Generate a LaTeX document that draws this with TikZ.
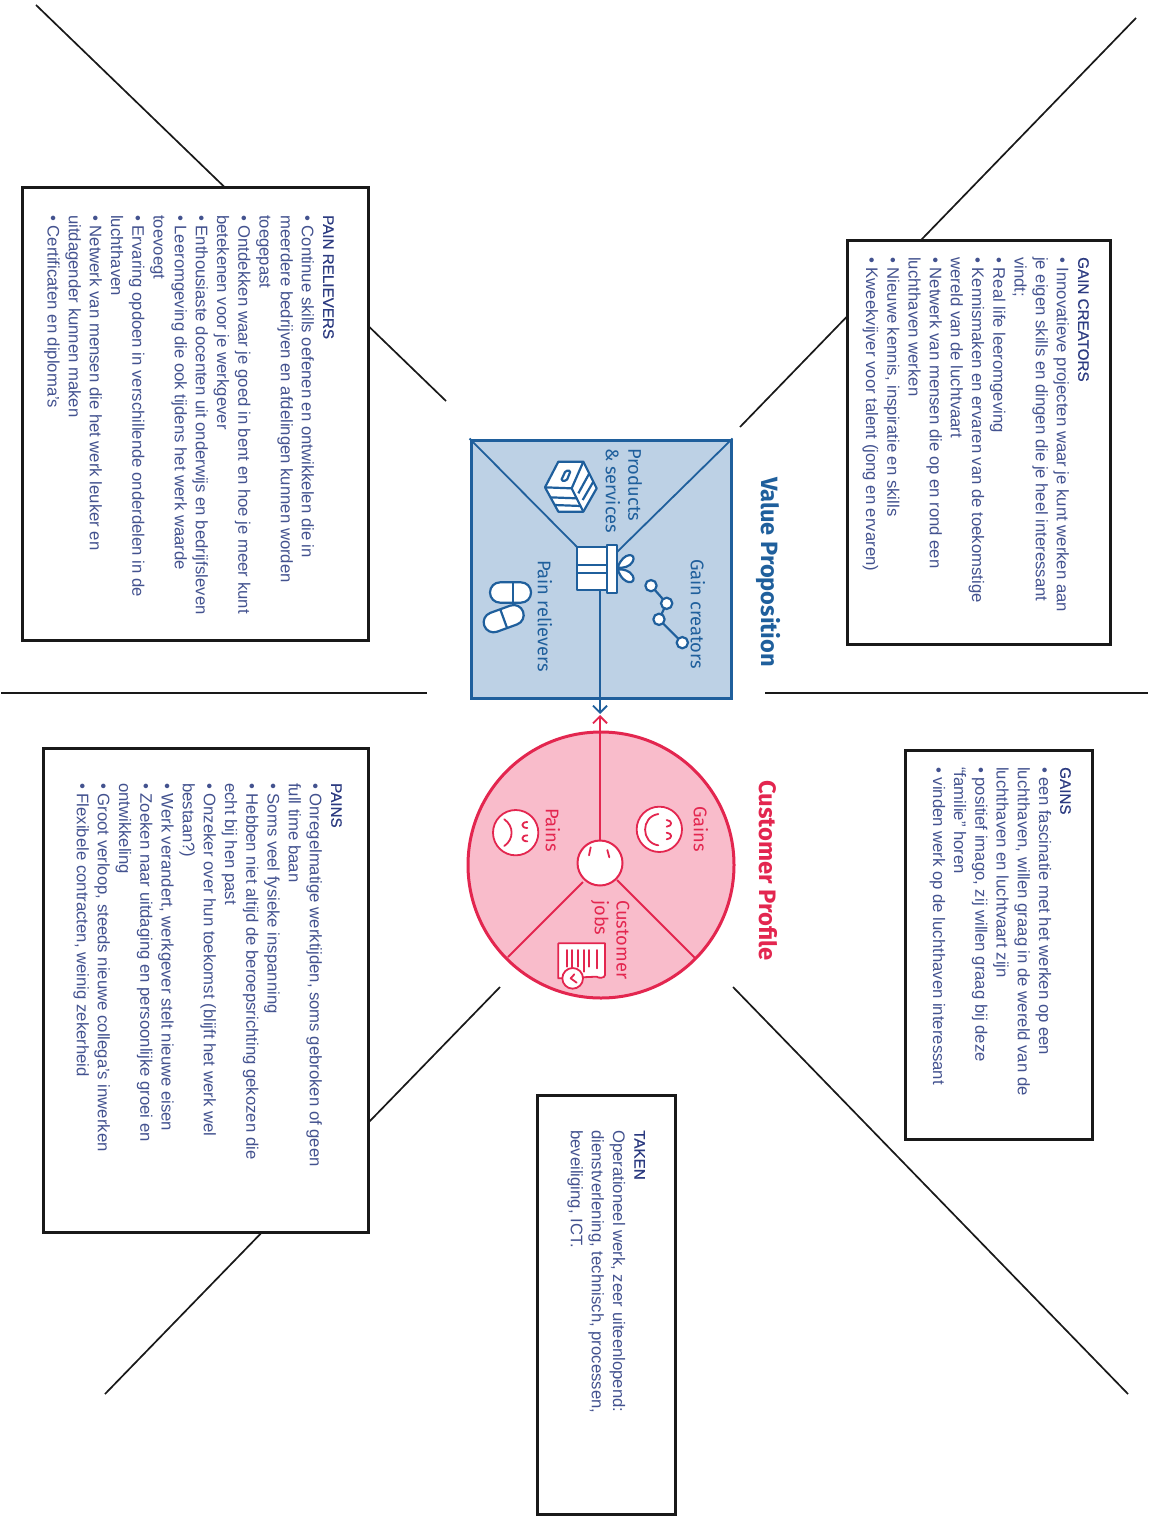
\documentclass[tikz,border=0pt]{standalone}
\usepackage{fontspec}
\setmainfont{Liberation Sans}
\newfontfamily\canvasfont{Fira Sans}
\newfontfamily\headfont[FakeBold=0.6]{Liberation Sans}
\usetikzlibrary{arrows.meta}
\definecolor{vpblue}{HTML}{1F5F9C}
\definecolor{vpfill}{HTML}{BDD1E5}
\definecolor{cppink}{HTML}{E3264F}
\definecolor{cpfill}{HTML}{F9BCCB}
\definecolor{bodyink}{HTML}{43528F}
\definecolor{headink}{HTML}{2B3A80}
\tikzset{
  x=1pt,y=-1pt,
  guide/.style={draw=black!90,line width=1.7pt},
  panel/.style={draw=black!90,line width=3pt,fill=white},
  bodytext/.style={rotate=-90,anchor=north west,inner sep=0pt,align=left,text=bodyink,font=\fontsize{16.7}{21.2}\selectfont},
  bluelabel/.style={rotate=-90,anchor=west,inner sep=0pt,align=left,text=vpblue,font=\canvasfont\fontsize{18.3}{20}\selectfont},
  pinklabel/.style={rotate=-90,anchor=west,inner sep=0pt,align=left,text=cppink,font=\canvasfont\fontsize{18.3}{20}\selectfont},
  bluetitle/.style={rotate=-90,anchor=west,inner sep=0pt,text=vpblue,font=\canvasfont\bfseries\fontsize{23.6}{26}\selectfont},
  pinktitle/.style={rotate=-90,anchor=west,inner sep=0pt,text=cppink,font=\canvasfont\bfseries\fontsize{23.8}{26}\selectfont},
  blueicon/.style={draw=vpblue,line width=2.2pt,line join=round},
  pinkicon/.style={draw=cppink,line width=1.8pt,line join=round,line cap=round},
}
\newcommand{\hd}[1]{{\headfont\fontsize{15.2}{21.2}\selectfont\color{headink}#1}}
\begin{document}
\begin{tikzpicture}
\useasboundingbox (0,0) rectangle (1153,1517);
\fill[white] (0,0) rectangle (1153,1517);

% guide lines
\draw[guide] (36,5) -- (446,401);
\draw[guide] (1136,18) -- (740,427);
\draw[guide] (1,693) -- (427,693);
\draw[guide] (765,693) -- (1148,693);
\draw[guide] (500,987) -- (105,1394);
\draw[guide] (733,987) -- (1128,1394);

% panels
\node[panel,minimum width=263pt,minimum height=404pt,inner sep=0pt] (gcbox) at (978.5,442) {};
\node[panel,minimum width=346pt,minimum height=452pt,inner sep=0pt] (prbox) at (195,414) {};
\node[panel,minimum width=325pt,minimum height=484pt,inner sep=0pt] (pbox) at (205.5,990) {};
\node[panel,minimum width=138pt,minimum height=419pt,inner sep=0pt] (tbox) at (606,1304.5) {};
\node[panel,minimum width=187pt,minimum height=389pt,inner sep=0pt] (gbox) at (998.5,944.5) {};

% panel texts
\node[bodytext] (gctext) at (1089,257) {\hd{GAIN CREATORS}\\
• Innovatieve projecten waar je kunt werken aan\\
je eigen skills en dingen die je heel interessant\\
vindt;\\
• Real life leeromgeving\\
• Kennismaken en ervaren van de toekomstige\\
wereld van de luchtvaart\\
• Netwerk van mensen die op en rond een\\
luchthaven werken\\
• Nieuwe kennis, inspiratie en skills\\
• Kweekvijver voor talent (jong en ervaren)};

\node[bodytext] (prtext) at (334,215) {\hd{PAIN RELIEVERS}\\
• Continue skills oefenen en ontwikkelen die in\\
meerdere bedrijven en afdelingen kunnen worden\\
toegepast\\
• Ontdekken waar je goed in bent en hoe je meer kunt\\
betekenen voor je werkgever\\
• Enthousiaste docenten uit onderwijs en bedrijfsleven\\
• Leeromgeving die ook tijdens het werk waarde\\
toevoegt\\
• Ervaring opdoen in verschillende onderdelen in de\\
luchthaven\\
• Netwerk van mensen die het werk leuker en\\
uitdagender kunnen maken\\
• Certificaten en diploma’s};

\node[bodytext] (ptext) at (342,783) {\hd{PAINS}\\
• Onregelmatige werktijden, soms gebroken of geen\\
full time baan\\
• Soms veel fysieke inspanning\\
• Hebben niet altijd de beroepsrichting gekozen die\\
echt bij hen past\\
• Onzeker over hun toekomst (blijft het werk wel\\
bestaan?)\\
• Werk verandert, werkgever stelt nieuwe eisen\\
• Zoeken naar uitdaging en persoonlijke groei en\\
ontwikkeling\\
• Groot verloop, steeds nieuwe collega’s inwerken\\
• Flexibele contracten, weinig zekerheid};

\node[bodytext] (ttext) at (645,1130) {\hd{TAKEN}\\
Operationeel werk, zeer uiteenlopend:\\
dienstverlening, technisch, processen,\\
beveiliging, ICT.};

\node[bodytext] (gtext) at (1071,767) {\hd{GAINS}\\
• een fascinatie met het werken op een\\
luchthaven, willen graag in de wereld van de\\
luchthaven en luchtvaart zijn\\
• positief imago, zij willen graag bij deze\\
“familie” horen\\
• vinden werk op de luchthaven interessant};

% ---------- Value proposition ----------
\node[draw=vpblue,fill=vpfill,line width=3pt,minimum width=260pt,minimum height=258pt,inner sep=0pt] (vp) at (601,569) {};
\draw[vpblue,line width=1.8pt] (vp.north west) -- (577,547);
\draw[vpblue,line width=1.8pt] (vp.north east) -- (617,552);
\coordinate (giftfoot) at (600,590);
\coordinate (vptip) at (600,714);
\draw[vpblue,line width=1.8pt,-{Straight Barb[length=7pt,width=14pt]}] (giftfoot) -- (vptip);

\begin{scope}[shift={(450,420)},scale=0.33333]
  % gift
  \filldraw[blueicon,fill=white] (380,380) rectangle (470,510);
  \draw[blueicon] (380,435) -- (470,435) (380,460) -- (470,460);
  \filldraw[blueicon,fill=white] (470,375) rectangle (500,520);
  \filldraw[blueicon,fill=white] (503,443) .. controls (520,392) and (562,400) .. (548,425) .. controls (540,440) and (520,445) .. cycle;
  \filldraw[blueicon,fill=white] (503,448) .. controls (520,500) and (562,492) .. (548,467) .. controls (540,452) and (520,447) .. cycle;
  % product box
  \filldraw[blueicon,fill=white] (285,202) -- (325,125) -- (400,125) -- (440,205) -- (400,275) -- (325,275) -- cycle;
  \draw[blueicon] (285,202) -- (365,205) -- (400,125) (365,205) -- (400,275);
  \draw[blueicon] (300,232) -- (381,235) (313,255) -- (393,258);
  \draw[blueicon] (385,220) -- (418,160) (398,240) -- (430,185);
  \draw[blueicon,rounded corners=1.5pt] (333,182) -- (347,152) -- (362,152) -- (350,182) -- cycle;
  % pills
  \filldraw[blueicon,fill=white,rounded corners=10pt] (120,487) rectangle (243,548);
  \draw[blueicon] (190,487) -- (190,548);
  \begin{scope}[shift={(161,596)},rotate=20]
    \filldraw[blueicon,fill=white,rounded corners=10pt] (-62,-30) rectangle (62,30);
    \draw[blueicon] (0,-30) -- (0,30);
  \end{scope}
  % chain
  \draw[blueicon] (603,497) -- (650,550) -- (627,598) -- (697,668);
  \foreach \cx/\cy in {603/497,650/550,627/598,697/668}
    \filldraw[blueicon,fill=white] (\cx,\cy) circle[radius=17];
\end{scope}

\node[bluetitle] (vptitle) at (768,477) {Value Proposition};
\node[bluelabel] (gclabel) at (698,559) {Gain creators};
\node[bluelabel] (prlabel) at (545,560) {Pain relievers};
\node[bluelabel] (pslabel1) at (635,448) {Products};
\node[bluelabel] (pslabel2) at (613,448) {\& services};

% ---------- Customer profile ----------
\node[circle,draw=cppink,fill=cpfill,line width=3pt,minimum size=266pt,inner sep=0pt] (cp) at (601,865) {};
\node[circle,draw=cppink,fill=white,line width=2pt,minimum size=45pt,inner sep=0pt] (head) at (600,863) {};
\draw[cppink,line width=2pt] (583,882) -- (508,957);
\draw[cppink,line width=2pt] (617,880) -- (695,958);
\coordinate (cptip) at (600,715);
\draw[cppink,line width=1.8pt,-{Straight Barb[length=7pt,width=14pt]}] (head.north) -- (cptip);

\begin{scope}[shift={(450,700)},scale=0.33333]
  % head marks
  \draw[pinkicon] (422,442) -- (417,466) (472,450) -- (478,472);
  % gains face
  \filldraw[pinkicon,fill=white] (628,388) circle[radius=68];
  \draw[pinkicon] (625,342) .. controls (572,350) and (572,428) .. (625,436);
  \draw[pinkicon] (650,360) .. controls (668,362) and (668,378) .. (650,380);
  \draw[pinkicon] (650,398) .. controls (668,400) and (668,416) .. (650,418);
  % pains face
  \filldraw[pinkicon,fill=white] (197,398) circle[radius=68];
  \draw[pinkicon] (163,358) .. controls (192,378) and (192,418) .. (163,438);
  \draw[pinkicon] (232,366) .. controls (212,366) and (212,384) .. (232,384);
  \draw[pinkicon] (232,406) .. controls (212,406) and (212,424) .. (232,424);
  % document
  \filldraw[pinkicon,fill=white] (325,730) -- (465,730) -- (465,825) .. controls (465,835) and (445,835) .. (440,830) -- (325,835) -- cycle;
  \draw[pinkicon] (350,750) -- (350,800) (367,750) -- (367,805) (384,750) -- (384,800) (401,750) -- (401,815) (418,750) -- (418,800) (440,750) -- (440,805);
  \filldraw[pinkicon,fill=white] (368,835) circle[radius=31];
  \draw[pinkicon] (380,848) -- (362,835) -- (373,823);
\end{scope}

\node[pinktitle] (cptitle) at (768,780) {Customer Profile};
\node[pinklabel] (glabel) at (701,806) {Gains};
\node[pinklabel] (plabel) at (553,808) {Pains};
\node[pinklabel] (cjlabel1) at (623,900) {Customer};
\node[pinklabel] (cjlabel2) at (600,900) {jobs};
\end{tikzpicture}
\end{document}
